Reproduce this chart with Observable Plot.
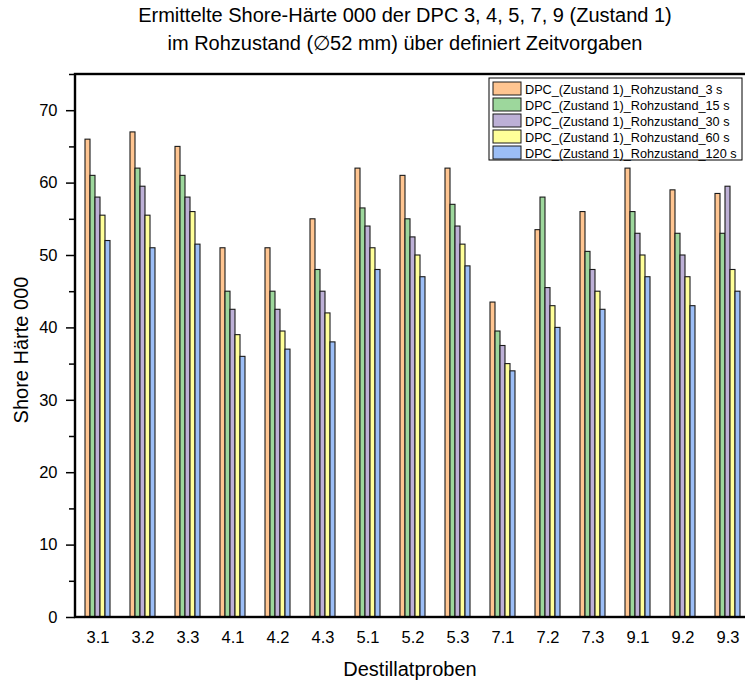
<!DOCTYPE html>
<html>
<head>
<meta charset="utf-8">
<script src="https://cdn.jsdelivr.net/npm/d3@7"></script>
<script src="https://cdn.jsdelivr.net/npm/@observablehq/plot@0.6"></script>
<style>
  html, body { margin: 0; padding: 0; background: #fff; overflow: hidden; }
  #chart { width: 745px; height: 684px; overflow: hidden; position: relative; }
  #chart svg { max-width: none !important; }
</style>
</head>
<body>
<div id="chart"></div>
<script>
// Distillate samples (x categories)
const samples = ["3.1", "3.2", "3.3", "4.1", "4.2", "4.3", "5.1", "5.2", "5.3", "7.1", "7.2", "7.3", "9.1", "9.2", "9.3"];

// Measurement series (dwell time of the durometer)
const seriesNames = [
  "DPC_(Zustand 1)_Rohzustand_3 s",
  "DPC_(Zustand 1)_Rohzustand_15 s",
  "DPC_(Zustand 1)_Rohzustand_30 s",
  "DPC_(Zustand 1)_Rohzustand_60 s",
  "DPC_(Zustand 1)_Rohzustand_120 s"
];
const seriesColors = ["#FFC591", "#9DD79C", "#BDB0D6", "#FFFF99", "#9CBEF6"];

// Shore 000 hardness per sample, one array per dwell time
const hardness3s   = [66, 67, 65, 51, 51, 55, 62, 61, 62, 43.5, 53.5, 56, 62, 59, 58.5];
const hardness15s  = [61, 62, 61, 45, 45, 48, 56.5, 55, 57, 39.5, 58, 50.5, 56, 53, 53];
const hardness30s  = [58, 59.5, 58, 42.5, 42.5, 45, 54, 52.5, 54, 37.5, 45.5, 48, 53, 50, 59.5];
const hardness60s  = [55.5, 55.5, 56, 39, 39.5, 42, 51, 50, 51.5, 35, 43, 45, 50, 47, 48];
const hardness120s = [52, 51, 51.5, 36, 37, 38, 48, 47, 48.5, 34, 40, 42.5, 47, 43, 45];

// Axis ticks
const majorTicks = [0, 10, 20, 30, 40, 50, 60, 70];
const minorTicks = [5, 15, 25, 35, 45, 55, 65, 75];

const seriesValues = [hardness3s, hardness15s, hardness30s, hardness60s, hardness120s];
const table = samples.flatMap((sample, i) =>
  seriesNames.map((series, j) => ({sample, series, value: seriesValues[j][i]}))
);

const W = 750, H = 684;
const mL = 75, mR = 0, mT = 74, mB = 67;
const font = "'Liberation Sans', Arial, Helvetica, sans-serif";

const chart = Plot.plot({
  width: W,
  height: H,
  marginLeft: mL,
  marginRight: mR,
  marginTop: mT,
  marginBottom: mB,
  style: {fontFamily: font, fontSize: "16px", color: "#000", background: "#fff", maxWidth: "none"},
  fx: {domain: samples, padding: 0, label: null},
  x: {domain: seriesNames, paddingInner: 0, paddingOuter: 1.52, axis: null},
  y: {domain: [0, 75], label: null},
  color: {domain: seriesNames, range: seriesColors},
  marks: [
    Plot.barY(table, {
      fx: "sample", x: "series", y: "value",
      fill: "series", stroke: "#1a1a1a", strokeWidth: 1.1
    }),
    Plot.axisFx({anchor: "bottom", tickSize: 0, tickPadding: 14, label: null, fontSize: 16.5}),
    Plot.axisY({ticks: majorTicks, tickSize: 9, tickPadding: 9, strokeWidth: 1.5, label: null, fontSize: 16.5}),
    Plot.axisY({ticks: minorTicks, tickSize: 6, strokeWidth: 1.5, tickFormat: () => "", label: null})
  ]
});

document.getElementById("chart").appendChild(chart);

// Decorations: plot frame, titles, axis titles and legend
const svg = d3.select(chart);
const plotW = W - mL - mR, plotH = H - mT - mB;

svg.append("rect")
  .attr("x", mL).attr("y", mT)
  .attr("width", plotW).attr("height", plotH)
  .attr("fill", "none").attr("stroke", "#000").attr("stroke-width", 2.4);

const titleLines = [
  "Ermittelte Shore-Härte 000 der DPC 3, 4, 5, 7, 9 (Zustand 1)",
  "im Rohzustand (\u220552 mm) über definiert Zeitvorgaben"
];
svg.append("g")
  .selectAll("text")
  .data(titleLines)
  .join("text")
  .attr("x", 405)
  .attr("y", (d, i) => 22 + i * 28)
  .attr("text-anchor", "middle")
  .style("font-family", font)
  .style("font-size", "20px")
  .attr("fill", "#000")
  .text(d => d);

svg.append("text")
  .attr("transform", "translate(28,350) rotate(-90)")
  .attr("text-anchor", "middle")
  .style("font-family", font)
  .style("font-size", "20px")
  .attr("fill", "#000")
  .text("Shore Härte 000");

svg.append("text")
  .attr("x", 410).attr("y", 676)
  .attr("text-anchor", "middle")
  .style("font-family", font)
  .style("font-size", "20px")
  .attr("fill", "#000")
  .text("Destillatproben");

// Legend box in the upper right of the plot area
const lg = svg.append("g").attr("transform", "translate(489,78)");
lg.append("rect")
  .attr("x", 0).attr("y", 0).attr("width", 253).attr("height", 82)
  .attr("fill", "#fff").attr("stroke", "#000").attr("stroke-width", 1);
const entries = lg.selectAll("g.entry")
  .data(seriesNames)
  .join("g")
  .attr("class", "entry")
  .attr("transform", (d, i) => `translate(4,${4 + i * 16})`);
entries.append("rect")
  .attr("width", 28).attr("height", 13)
  .attr("fill", (d, i) => seriesColors[i])
  .attr("stroke", "#1a1a1a").attr("stroke-width", 1);
entries.append("text")
  .attr("x", 32).attr("y", 12)
  .attr("text-anchor", "start")
  .style("font-family", font)
  .style("font-size", "12.7px")
  .attr("fill", "#000")
  .text(d => d);
</script>
</body>
</html>
